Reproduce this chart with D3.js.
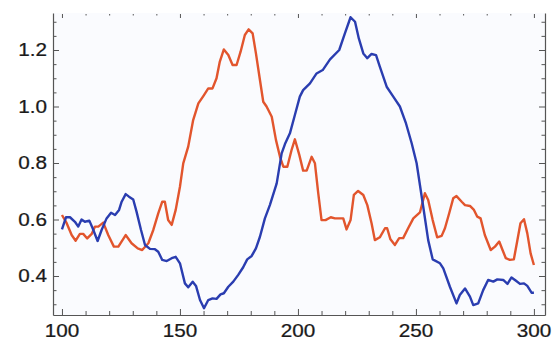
<!DOCTYPE html>
<html>
<head>
<meta charset="utf-8">
<script src="https://cdn.jsdelivr.net/npm/d3@7"></script>
<style>
  html, body { margin: 0; padding: 0; background: #fff; }
  svg { display: block; }
  .lbl { font-family: "Liberation Sans", Arial, sans-serif; font-size: 18px; fill: #1a1a1a; stroke: #1a1a1a; stroke-width: 0.25px; }
</style>
</head>
<body>
<div id="chart"></div>
<script>
// traced values (x, y) for the two curves
const blueX = [100, 101.7, 103.4, 105.5, 106.9, 108.3, 109.7, 111.6, 113, 115.1, 116.8, 118.9, 120.8, 122.5, 124.2, 125.3, 127, 128.4, 130.2, 131.6,
  133.5, 135.2, 137.3, 139.4, 140.8, 142.5, 144.4, 146.5, 148.2, 150, 152.1, 153.5, 155.4, 156.8, 158.5, 160.2, 162, 163.8, 165.5, 167.2,
  168.6, 170.5, 172.6, 174.7, 176.8, 178.5, 180.4, 182.2, 183.9, 186, 188.1, 191, 193.1, 194.5, 196.6, 198.7, 200.8, 202.2, 205.1, 207.9,
  210.5, 213.6, 217.5, 219.9, 222.3, 224.2, 225.8, 227.7, 229.4, 231.2, 233.1, 234.7, 237.6, 240.4, 243.2, 245.8, 248.2, 250.3, 253.1, 255.2,
  257.1, 260.2, 261.6, 264.4, 267.2, 268.6, 270.8, 272.9, 274.3, 276.4, 278.5, 280.6, 282.8, 284.5, 287, 288.8, 290.5, 292.4, 294.1, 295.8,
  297.2, 299, 300];
const blueY = [0.565, 0.608, 0.608, 0.592, 0.575, 0.600, 0.592, 0.596, 0.569, 0.524, 0.563, 0.604, 0.624, 0.616, 0.634, 0.663, 0.690, 0.681, 0.671, 0.628,
  0.563, 0.510, 0.496, 0.495, 0.486, 0.457, 0.453, 0.463, 0.468, 0.445, 0.374, 0.360, 0.380, 0.365, 0.315, 0.286, 0.315, 0.321, 0.319, 0.335,
  0.339, 0.362, 0.380, 0.404, 0.431, 0.459, 0.471, 0.498, 0.539, 0.604, 0.651, 0.728, 0.834, 0.867, 0.905, 0.970, 1.035, 1.058, 1.082, 1.117,
  1.129, 1.167, 1.200, 1.259, 1.316, 1.300, 1.241, 1.188, 1.171, 1.186, 1.182, 1.141, 1.070, 1.035, 1.000, 0.940, 0.870, 0.799, 0.645, 0.527,
  0.459, 0.445, 0.427, 0.362, 0.303, 0.333, 0.356, 0.327, 0.297, 0.303, 0.350, 0.386, 0.380, 0.388, 0.386, 0.372, 0.395, 0.383, 0.372, 0.374,
  0.365, 0.341, 0.341];

const orangeX = [100, 102, 104.1, 105.8, 107.6, 109, 110.7, 112.6, 114, 115.4, 117.5, 119.6, 122, 123.9, 127, 129.5, 132.1, 134, 136.6, 138.7,
  140.8, 142.5, 143.6, 145, 146.5, 148.2, 150, 151.4, 153.5, 155.6, 157.8, 159.9, 162, 163.8, 165.5, 166.9, 168.6, 170.5, 172.3, 174,
  175.7, 177.5, 179.1, 180.8, 182.2, 183.9, 185.3, 186.7, 188.9, 190.7, 192.4, 193.8, 195.5, 197.3, 198.7, 200.6, 202.2, 203.7, 205.8, 207.2,
  208.6, 210, 211.7, 213.9, 215.7, 217.5, 219.2, 220.6, 222.3, 223.7, 225.5, 227.7, 229.4, 231.2, 232.6, 234.7, 236.9, 237.8, 239.2, 241.1,
  242.9, 244.6, 246.7, 248.9, 251.7, 253.8, 255.2, 257.1, 259, 260.9, 262.3, 264.1, 265.8, 267.2, 269.4, 270.8, 272.9, 274.6, 276, 277.4,
  279.2, 281.7, 283.5, 285.3, 286.7, 288.1, 289.8, 291.5, 292.9, 294.3, 295.8, 297.2, 298.6, 300];
const orangeY = [0.616, 0.587, 0.545, 0.525, 0.549, 0.549, 0.533, 0.549, 0.575, 0.575, 0.589, 0.545, 0.504, 0.504, 0.545, 0.516, 0.498, 0.492, 0.516, 0.563,
  0.622, 0.663, 0.663, 0.598, 0.581, 0.634, 0.716, 0.799, 0.858, 0.952, 1.011, 1.037, 1.064, 1.064, 1.100, 1.159, 1.202, 1.182, 1.147, 1.147,
  1.194, 1.253, 1.273, 1.259, 1.188, 1.094, 1.017, 1.000, 0.964, 0.881, 0.822, 0.787, 0.787, 0.846, 0.884, 0.828, 0.773, 0.773, 0.822, 0.799,
  0.693, 0.598, 0.598, 0.608, 0.604, 0.604, 0.604, 0.565, 0.598, 0.687, 0.701, 0.687, 0.651, 0.587, 0.527, 0.537, 0.569, 0.569, 0.530, 0.510,
  0.534, 0.534, 0.569, 0.604, 0.625, 0.693, 0.669, 0.598, 0.537, 0.542, 0.569, 0.622, 0.675, 0.683, 0.663, 0.651, 0.648, 0.634, 0.610, 0.604,
  0.545, 0.492, 0.504, 0.522, 0.492, 0.463, 0.457, 0.459, 0.522, 0.587, 0.601, 0.551, 0.480, 0.439];

const xTicks = [100, 150, 200, 250, 300];
const yTicks = [0.4, 0.6, 0.8, 1.0, 1.2];

const W = 554, H = 342;
const margin = { top: 13, right: 9, bottom: 27, left: 53 };

const svg = d3.select('#chart').append('svg')
  .attr('width', W)
  .attr('height', H);

const x = d3.scaleLinear().domain([96.2, 304.7]).range([margin.left, W - margin.right]);
const y = d3.scaleLinear().domain([0.262, 1.331]).range([H - margin.bottom, margin.top]);

// plot area
svg.append('rect')
  .attr('x', margin.left).attr('y', margin.top)
  .attr('width', W - margin.left - margin.right)
  .attr('height', H - margin.top - margin.bottom)
  .attr('fill', '#fafbfe');

const xMinor = d3.range(100, 301, 10);
const yMinor = d3.range(0.3, 1.31, 0.05).map(v => +v.toFixed(2));
const isMajorX = v => v % 50 === 0;
const isMajorY = v => yTicks.some(t => Math.abs(t - v) < 1e-6);

const axisColor = '#555';

// bottom axis (ticks point inward)
const gBottom = svg.append('g').attr('transform', `translate(0,${H - margin.bottom})`)
  .call(d3.axisBottom(x).tickValues(xMinor).tickSizeInner(-5).tickSizeOuter(0).tickFormat(''));
gBottom.selectAll('.tick line').attr('y2', d => isMajorX(d) ? -6 : -4);

// top ticks only
const gTop = svg.append('g').attr('transform', `translate(0,${margin.top})`)
  .call(d3.axisTop(x).tickValues(xMinor).tickSizeInner(-4).tickSizeOuter(0).tickFormat(''));
gTop.select('.domain').remove();
gTop.selectAll('.tick line').attr('y1', 1).attr('y2', d => isMajorX(d) ? 5 : 2.5);

// left axis
const gLeft = svg.append('g').attr('transform', `translate(${margin.left},0)`)
  .call(d3.axisLeft(y).tickValues(yMinor).tickSizeInner(-4).tickSizeOuter(0).tickFormat(''));
gLeft.selectAll('.tick line').attr('x2', d => isMajorY(d) ? 6 : 3.5);

// right axis
const gRight = svg.append('g').attr('transform', `translate(${W - margin.right},0)`)
  .call(d3.axisRight(y).tickValues(yMinor).tickSizeInner(-4).tickSizeOuter(0).tickFormat(''));
gRight.selectAll('.tick line').attr('x2', d => isMajorY(d) ? -6 : -3.5);

svg.selectAll('.domain').attr('stroke', axisColor).attr('stroke-width', 1.2);
svg.selectAll('.tick line').attr('stroke', axisColor).attr('stroke-width', 1);

// tick labels, slightly widened like the original
svg.append('g').selectAll('text')
  .data(yTicks)
  .enter()
  .append('text')
  .attr('class', 'lbl')
  .attr('text-anchor', 'end')
  .attr('dy', '0.36em')
  .attr('transform', d => `translate(47,${y(d)}) scale(1.15,1)`)
  .text(d => d.toFixed(1));

svg.append('g').selectAll('text')
  .data(xTicks)
  .enter()
  .append('text')
  .attr('class', 'lbl')
  .attr('text-anchor', 'middle')
  .attr('transform', d => `translate(${x(d)},337) scale(1.15,1)`)
  .text(d => d);

// curves
const line = d3.line()
  .x(d => x(d[0]))
  .y(d => y(d[1]));

svg.append('path')
  .datum(orangeX.map((v, i) => [v, orangeY[i]]))
  .attr('fill', 'none')
  .attr('stroke', '#e2552d')
  .attr('stroke-width', 2.4)
  .attr('stroke-linejoin', 'round')
  .attr('d', line);

svg.append('path')
  .datum(blueX.map((v, i) => [v, blueY[i]]))
  .attr('fill', 'none')
  .attr('stroke', '#2a3db0')
  .attr('stroke-width', 2.4)
  .attr('stroke-linejoin', 'round')
  .attr('d', line);
</script>
</body>
</html>
